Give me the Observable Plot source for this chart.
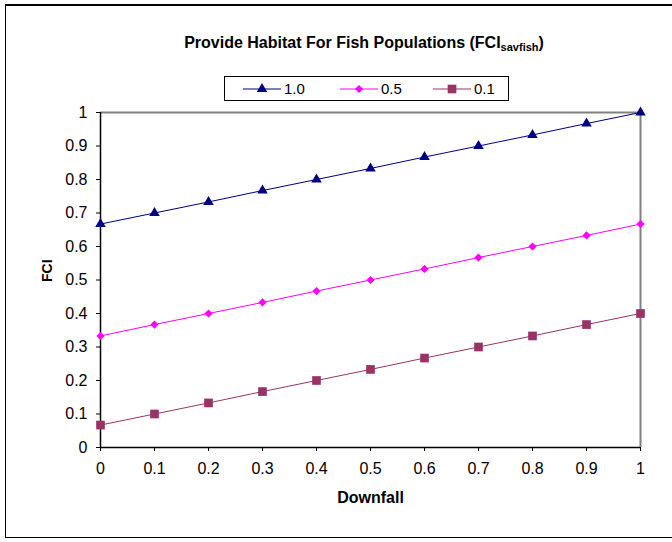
<!DOCTYPE html>
<html>
<head>
<meta charset="utf-8">
<script src="https://cdn.jsdelivr.net/npm/d3@7"></script>
<script src="https://cdn.jsdelivr.net/npm/@observablehq/plot@0.6"></script>
<style>
  body { margin: 0; background: #fff; font-family: "Liberation Sans", Arial, sans-serif; }
  #wrap { position: relative; width: 672px; height: 542px; overflow: hidden; }
  #frame { position: absolute; left: 5px; top: 4px; width: 700px; height: 534px; border: 1px solid #000; box-sizing: border-box; border-top-width: 2px; }
  #chart { position: absolute; left: 0; top: 0; }
  #title { position: absolute; left: 0; width: 728px; top: 33px; text-align: center; font-weight: bold; font-size: 16px; line-height: 19px; color: #000; white-space: nowrap; }
  #title sub { font-size: 11px; vertical-align: -3px; line-height: 0; }
  #legend { position: absolute; left: 224px; top: 76px; width: 285px; height: 25px; border: 1px solid #000; box-sizing: border-box; }
  .item { position: absolute; top: 3px; height: 18px; font-size: 15px; line-height: 18px; }
  .item svg { position: absolute; left: 0; top: 0; }
  .item span { position: absolute; top: 0; white-space: nowrap; }
</style>
</head>
<body>
<div id="wrap">
  <div id="frame"></div>
  <div id="chart"></div>
  <div id="title">Provide Habitat For Fish Populations (FCI<sub>savfish</sub>)</div>
  <div id="legend"></div>
</div>
<script>
// Data
const downfall = [0, 0.1, 0.2, 0.3, 0.4, 0.5, 0.6, 0.7, 0.8, 0.9, 1];
const seriesNames = ["1.0", "0.5", "0.1"];
const series10 = [0.667, 0.7, 0.733, 0.767, 0.8, 0.833, 0.867, 0.9, 0.933, 0.967, 1.0];
const series05 = [0.333, 0.367, 0.4, 0.433, 0.467, 0.5, 0.533, 0.567, 0.6, 0.633, 0.667];
const series01 = [0.067, 0.1, 0.133, 0.167, 0.2, 0.233, 0.267, 0.3, 0.333, 0.367, 0.4];
const seriesColors = ["#000080", "#FF00FF", "#993366"];
const seriesSymbols = ["triangle", "diamond2", "square"];
const seriesR = [3.9, 3.7, 4.9];
const xTicks = [0, 0.1, 0.2, 0.3, 0.4, 0.5, 0.6, 0.7, 0.8, 0.9, 1];
const xTickLabels = ["0", "0.1", "0.2", "0.3", "0.4", "0.5", "0.6", "0.7", "0.8", "0.9", "1"];
const yTicks = [0, 0.1, 0.2, 0.3, 0.4, 0.5, 0.6, 0.7, 0.8, 0.9, 1];
const yTickLabels = ["0", "0.1", "0.2", "0.3", "0.4", "0.5", "0.6", "0.7", "0.8", "0.9", "1"];

const allValues = [series10, series05, series01];
const rows = [];
allValues.forEach((vals, s) => vals.forEach((v, i) => rows.push({series: seriesNames[s], x: downfall[i], y: v})));

const lineMarks = [];
const dotMarks = [];
seriesNames.forEach((name, s) => {
  const d = rows.filter(r => r.series === name);
  lineMarks.push(Plot.line(d, {x: "x", y: "y", stroke: seriesColors[s], strokeWidth: 1}));
  dotMarks.push(Plot.dot(d, {x: "x", y: "y", symbol: () => seriesSymbols[s], fill: seriesColors[s], stroke: "none", r: seriesR[s]}));
});

const chart = Plot.plot({
  width: 672,
  height: 542,
  marginLeft: 100,
  marginRight: 32,
  marginTop: 112,
  marginBottom: 95,
  style: {fontFamily: "'Liberation Sans', Arial, sans-serif", fontSize: "16px", color: "#000", background: "transparent"},
  x: {domain: [0, 1]},
  y: {domain: [0, 1]},
  symbol: {type: "identity"},
  marks: [
    Plot.ruleY([1], {stroke: "#808080", strokeWidth: 2}),
    Plot.ruleX([1], {stroke: "#808080", strokeWidth: 2}),
    Plot.axisX({ticks: xTicks, tickFormat: (d) => xTickLabels[xTicks.indexOf(d)], tickSize: 4, tickPadding: 11, fontSize: 16, stroke: "#000", label: null}),
    Plot.axisY({ticks: yTicks, tickFormat: (d) => yTickLabels[yTicks.indexOf(d)], tickSize: 4, tickPadding: 9, fontSize: 16, stroke: "#000", label: null}),
    Plot.ruleX([0], {stroke: "#000", strokeWidth: 1.5}),
    Plot.ruleY([0], {stroke: "#000", strokeWidth: 1.5}),
    ...lineMarks,
    ...dotMarks,
    Plot.text(["Downfall"], {frameAnchor: "bottom", dy: 55, fontWeight: "bold", fontSize: 16}),
    Plot.text(["FCI"], {frameAnchor: "left", dx: -52.5, dy: 2, rotate: -90, fontWeight: "bold", fontSize: 14})
  ]
});
document.getElementById("chart").appendChild(chart);

// Legend
const legend = document.getElementById("legend");
const lefts = [17, 114, 207];
const legendSymbols = [d3.symbolTriangle, d3.symbolDiamond2, d3.symbolSquare];
seriesNames.forEach((name, s) => {
  const item = document.createElement("div");
  item.className = "item";
  item.style.left = lefts[s] + "px";
  const svgSym = d3.symbol(legendSymbols[s], Math.PI * seriesR[s] ** 2)();
  item.innerHTML = `<svg width="40" height="18"><line x1="1" x2="39" y1="9" y2="9" stroke="${seriesColors[s]}" stroke-width="1"/><path transform="translate(20,9)" d="${svgSym}" fill="${seriesColors[s]}"/></svg><span style="left:42px">${name}</span>`;
  legend.appendChild(item);
});
</script>
</body>
</html>
